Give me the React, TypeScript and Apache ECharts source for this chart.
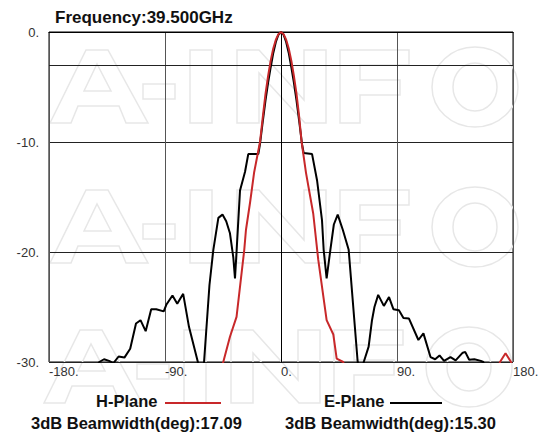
import React, { useEffect, useRef } from "react";
import * as echarts from "echarts";

const titleText = "Frequency:39.500GHz";
const xTicks = { min: -180, max: 180, interval: 90 };
const yTicks = { min: -30, max: 0, interval: 10 };
const threeDbLevel = -3;

const hPlaneLabel = "H-Plane";
const ePlaneLabel = "E-Plane";
const hBeamwidth = "3dB Beamwidth(deg):17.09";
const eBeamwidth = "3dB Beamwidth(deg):15.30";

// H-Plane (red): [angle deg, level dB]
const hPlane: [number, number][] = [
  [-52, -33], [-44.8, -30], [-39.6, -27.7], [-34.5, -25.9], [-28.5, -19.8],
  [-27.2, -18], [-24, -15.5], [-20.9, -12.8], [-16.3, -10], [-14, -7.6],
  [-12, -5.6], [-10, -4], [-8, -2.6], [-6, -1.5], [-4, -0.7], [-2, -0.2],
  [0, 0], [2, -0.2], [4, -0.7], [6, -1.5], [8, -2.6], [10, -4], [12, -5.6],
  [14, -7.6], [16, -10], [19.4, -12.8], [25, -16.5], [28.9, -20.7],
  [35.4, -26.2], [40.6, -27.5], [43.2, -29.7], [48.3, -30], [52, -33],
  [166, -33], [169.9, -30], [174.2, -29.2], [178.5, -30], [180, -31],
];

// E-Plane (black): [angle deg, level dB]
const ePlane: [number, number][] = [
  [-150, -32], [-141, -30], [-137.3, -29.75], [-133.4, -29.9], [-130, -30.1],
  [-126, -29.5], [-121.5, -29.6], [-117, -28.8], [-112.5, -26.5], [-109, -26.2],
  [-105, -27.2], [-100.7, -25.2], [-96.8, -25.2], [-91, -25.4], [-89, -24.8],
  [-84.2, -23.95], [-80.5, -24.7], [-75.9, -23.8], [-71.4, -26.8], [-64.5, -30],
  [-62, -31.5], [-59.7, -30], [-55.5, -23], [-52.5, -19.8], [-48.6, -16.9],
  [-45.4, -16.6], [-42.5, -17.2], [-39.6, -18.3], [-37, -20.5], [-35.7, -22.4],
  [-34.4, -19.8], [-31.8, -14.4], [-27.9, -12.7], [-25.4, -11.1], [-17.6, -11.1],
  [-16.3, -10.2], [-14, -8], [-12, -6.2], [-10, -4.6], [-8, -3.2], [-6, -1.9],
  [-4, -0.9], [-2, -0.25], [0, 0], [2, -0.25], [4, -0.9], [6, -1.9], [8, -3.2],
  [10, -4.6], [12, -6.2], [14, -8], [16.3, -10.2], [17.6, -11], [24.1, -11.1],
  [28, -13.5], [31.8, -17.1], [33.1, -19.8], [35.4, -22.4], [38.3, -19.8],
  [41, -17.5], [44, -16.6], [48, -18], [52.5, -19.8], [59.5, -30], [62, -31.5],
  [64.2, -30], [68, -28.6], [70.6, -26.2], [72.5, -25], [75.4, -23.9],
  [79.8, -24.9], [83.8, -24.1], [87.2, -25.2], [91.5, -25.3], [95, -26],
  [99.3, -26.05], [106.6, -28], [110.5, -27.4], [116, -29.55], [119.6, -29.75],
  [123, -29.4], [126.5, -29.9], [131.5, -29.55], [135.5, -29.85], [141, -29.15],
  [143, -29.1], [146, -29.8], [150, -29.75], [155, -29.9], [157, -30], [160, -32],
];

const FONT = '"Liberation Sans", Arial, sans-serif';
const RED = "#c8282a";
const WM = { fill: "none", stroke: "#e7e7e7", lineWidth: 1.5 };

// faint outlined "A-INFO" watermark drawn as shapes (decorative background)
function watermarkRow(dx: number, dy: number) {
  return {
    type: "group",
    x: dx,
    y: dy,
    silent: true,
    z: -5,
    children: [
      {
        type: "polygon",
        shape: {
          points: [[50, 123], [86, 50], [108, 50], [148, 123], [126, 123], [119, 106], [78, 106], [71, 123]],
        },
        style: WM,
      },
      { type: "polygon", shape: { points: [[84, 91], [97, 64], [111, 91]] }, style: WM },
      { type: "rect", shape: { x: 143, y: 84, width: 32, height: 15 }, style: WM },
      { type: "rect", shape: { x: 190, y: 50, width: 22, height: 73 }, style: WM },
      {
        type: "polygon",
        shape: {
          points: [[237, 123], [237, 50], [259, 50], [304, 100], [304, 50], [326, 50], [326, 123], [305, 123], [259, 73], [259, 123]],
        },
        style: WM,
      },
      {
        type: "polygon",
        shape: {
          points: [[340, 123], [340, 50], [409, 50], [409, 65], [360, 65], [360, 80], [400, 80], [400, 95], [360, 95], [360, 123]],
        },
        style: WM,
      },
      { type: "ellipse", shape: { cx: 475, cy: 87, rx: 43, ry: 40 }, style: WM },
      { type: "ellipse", shape: { cx: 475, cy: 87, rx: 22, ry: 24 }, style: WM },
    ],
  };
}

export default function App() {
  const ref = useRef<HTMLDivElement>(null);
  useEffect(() => {
    if (!ref.current) return;
    const chart = echarts.init(ref.current, undefined, { renderer: "svg" });
    chart.setOption({
      animation: false,
      backgroundColor: "#fff",
      textStyle: { fontFamily: FONT },
      grid: {
        left: 49,
        right: 31,
        top: 32,
        bottom: 74,
        show: true,
        borderColor: "#000",
        borderWidth: 1,
        backgroundColor: "transparent",
      },
      xAxis: {
        type: "value",
        ...xTicks,
        axisLine: { show: true, lineStyle: { color: "#000" } },
        axisTick: { show: false },
        splitLine: { show: true, lineStyle: { color: "#555", width: 1 } },
        axisLabel: {
          formatter: (v: number) => `${v}.`,
          align: "left",
          margin: 3,
          fontSize: 13,
          color: "#333",
          fontFamily: FONT,
        },
      },
      yAxis: {
        type: "value",
        ...yTicks,
        axisLine: { show: true, lineStyle: { color: "#000" } },
        axisTick: { show: false },
        splitLine: { show: true, lineStyle: { color: "#222", width: 1 } },
        axisLabel: {
          formatter: (v: number) => `${v}.`,
          margin: 10,
          fontSize: 13,
          color: "#333",
          fontFamily: FONT,
        },
      },
      series: [
        {
          name: ePlaneLabel,
          type: "line",
          data: ePlane,
          showSymbol: false,
          symbol: "none",
          clip: true,
          lineStyle: { color: "#000", width: 2 },
          z: 3,
          markLine: {
            silent: true,
            symbol: "none",
            label: { show: false },
            lineStyle: { color: "#222", type: "solid", width: 1 },
            data: [{ yAxis: threeDbLevel }],
            z: 1,
          },
        },
        {
          name: hPlaneLabel,
          type: "line",
          data: hPlane,
          showSymbol: false,
          symbol: "none",
          clip: true,
          lineStyle: { color: RED, width: 2 },
          z: 4,
        },
      ],
      graphic: [
        watermarkRow(0, 0),
        watermarkRow(0, 140),
        watermarkRow(-6, 280),
        {
          type: "text",
          left: 55,
          top: 9,
          style: { text: titleText, font: `bold 17px ${FONT}`, fill: "#111" },
        },
        {
          type: "text",
          left: 96,
          top: 392,
          style: { text: hPlaneLabel, font: `bold 16.5px ${FONT}`, fill: "#111" },
        },
        {
          type: "line",
          shape: { x1: 165, y1: 403, x2: 221, y2: 403 },
          style: { stroke: RED, lineWidth: 2 },
        },
        {
          type: "text",
          left: 324,
          top: 392,
          style: { text: ePlaneLabel, font: `bold 16.5px ${FONT}`, fill: "#111" },
        },
        {
          type: "line",
          shape: { x1: 390, y1: 403, x2: 442, y2: 403 },
          style: { stroke: "#000", lineWidth: 2 },
        },
        {
          type: "text",
          left: 31,
          top: 414,
          style: { text: hBeamwidth, font: `bold 16.5px ${FONT}`, fill: "#111" },
        },
        {
          type: "text",
          left: 285,
          top: 414,
          style: { text: eBeamwidth, font: `bold 16.5px ${FONT}`, fill: "#111" },
        },
      ],
    });
    return () => chart.dispose();
  }, []);
  return (
    <div
      ref={ref}
      style={{ position: "fixed", left: 0, top: 0, width: 544, height: 436 }}
    />
  );
}
